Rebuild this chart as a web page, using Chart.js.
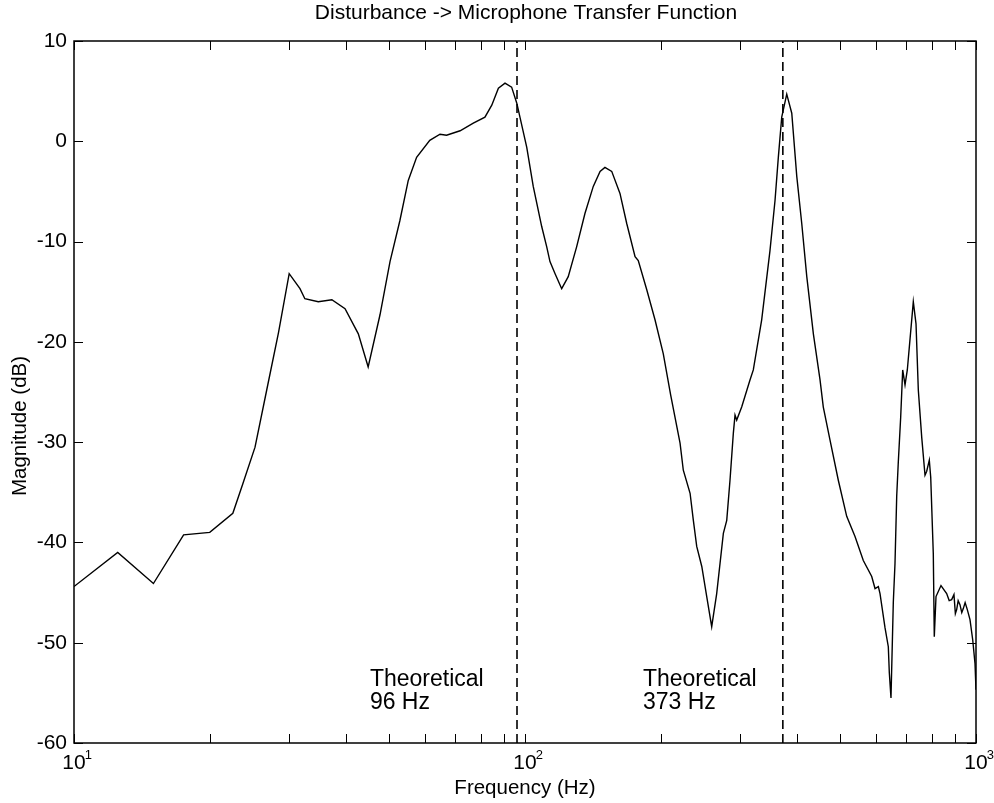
<!DOCTYPE html>
<html>
<head>
<meta charset="utf-8">
<title>Disturbance -> Microphone Transfer Function</title>
<script src="https://cdn.jsdelivr.net/npm/chart.js@4/dist/chart.umd.min.js"></script>
<style>
  html, body { margin: 0; padding: 0; background: #ffffff; }
  #wrap { width: 994px; height: 803px; }
</style>
</head>
<body>
<div id="wrap"><canvas id="tf" width="994" height="803"></canvas></div>
<script>
// Measured magnitude response, disturbance input -> microphone output
const freqHz = [
  10.0, 12.5, 15.0, 17.5, 20.0, 22.5, 23.7, 25.2, 26.75, 28.4,
  30.0, 31.7, 32.5, 34.8, 37.3, 39.9, 42.7, 44.9, 47.7, 50.2,
  52.8, 55.1, 57.5, 61.5, 64.8, 67.0, 71.8, 76.8, 81.5, 84.4,
  87.3, 90.3, 93.4, 95.9, 100.9, 104.3, 108.9, 111.7, 113.6, 116.6,
  120.6, 124.7, 130.2, 135.8, 141.7, 146.7, 150.4, 155.7, 162.4, 168.1,
  175.4, 178.3, 186.2, 194.2, 202.6, 210.4, 220.7, 224.4, 232.3, 236.2,
  240.3, 246.6, 252.9, 259.4, 266.1, 275.3, 280.1, 284.8, 289.7, 292.2,
  294.7, 302.3, 315.4, 320.8, 334.8, 349.3, 358.4, 364.5, 370.9, 380.5,
  390.4, 400.5, 410.8, 421.5, 435.9, 451.0, 458.6, 474.6, 495.1, 516.8,
  539.2, 562.5, 587.2, 597.2, 607.4, 612.6, 628.4, 639.1, 642.4, 647.9,
  655.6, 661.3, 667.1, 672.5, 680.8, 687.8, 696.0, 704.2, 714.1, 726.1,
  736.2, 744.9, 757.9, 770.8, 777.5, 787.9, 793.6, 804.1, 808.2, 815.3,
  836.3, 860.9, 872.0, 883.2, 893.6, 900.0, 906.0, 913.0, 921.4, 930.0,
  937.1, 946.0, 956.6, 969.8, 983.3, 995.0, 1000.0
];
const magDb = [
  -44.4, -41.0, -44.1, -39.25, -39.0, -37.1, -34.1, -30.5, -24.8, -19.1,
  -13.2, -14.7, -15.7, -16.0, -15.8, -16.7, -19.2, -22.5, -17.3, -12.0,
  -7.9, -3.9, -1.6, 0.1, 0.7, 0.6, 1.05, 1.8, 2.4, 3.6,
  5.3, 5.8, 5.4, 3.8, -0.6, -4.5, -8.5, -10.5, -12.0, -13.2,
  -14.7, -13.5, -10.5, -7.2, -4.5, -3.0, -2.6, -3.0, -5.2, -8.2,
  -11.5, -11.9, -14.8, -17.8, -21.2, -25.3, -30.1, -32.8, -35.1, -37.8,
  -40.4, -42.4, -45.4, -48.4, -45.1, -39.1, -37.8, -33.8, -29.1, -27.3,
  -27.8, -26.5, -23.8, -22.8, -17.8, -10.9, -5.9, -1.6, 2.4, 4.7,
  2.8, -3.5, -8.2, -13.5, -19.2, -23.8, -26.5, -29.8, -33.8, -37.4,
  -39.4, -41.8, -43.4, -44.6, -44.4, -45.1, -48.5, -50.4, -53.0, -55.5,
  -46.0, -42.1, -35.4, -32.0, -27.5, -22.8, -24.3, -22.8, -19.7, -16.0,
  -18.2, -24.8, -29.5, -33.3, -32.9, -31.8, -33.5, -41.1, -49.4, -45.4,
  -44.3, -45.1, -45.8, -45.7, -45.2, -47.1, -46.7, -45.8, -46.2, -47.0,
  -46.6, -46.0, -46.7, -47.7, -49.7, -52.1, -54.7
];

// Predicted resonances, marked with dashed verticals
const theoryFreqHz = [96, 373];
const theoryLabels = [['Theoretical', '96 Hz'], ['Theoretical', '373 Hz']];
// Where each note starts (left edge, Hz) and the dB level of its two lines
const noteAnchorHz = [45.3, 182.6];
const noteLineDb = [-53.7, -56.0];

// Axis ticks
const xDecades = [10, 100, 1000];
const xDecadeExponents = ['1', '2', '3'];
const yTicksDb = [10, 0, -10, -20, -30, -40, -50, -60];

const X_MIN = 10, X_MAX = 1000, Y_MIN = -60, Y_MAX = 10;
const FONT = '"Liberation Sans", Arial, Helvetica, sans-serif';

const curve = freqHz.map((f, i) => ({ x: f, y: magDb[i] }));
const theoryDatasets = theoryFreqHz.map(f => ({
  data: [{ x: f, y: Y_MIN }, { x: f, y: Y_MAX }],
  borderColor: '#000000',
  borderWidth: 1.6,
  borderDash: [9, 5],
  pointRadius: 0,
  fill: false
}));

// Box, inward ticks, labels and notes in the classic plotting style
const framePlugin = {
  id: 'frame',
  afterDraw(chart) {
    const { ctx, chartArea: a, scales } = chart;
    const xs = scales.x, ys = scales.y;
    const TICK = 9;
    ctx.save();
    ctx.strokeStyle = '#000000';
    ctx.fillStyle = '#000000';
    ctx.lineWidth = 1.5;
    ctx.strokeRect(a.left, a.top, a.right - a.left, a.bottom - a.top);

    ctx.lineWidth = 1;
    ctx.beginPath();
    // x ticks: decades and the 2..9 subdivisions, top and bottom
    for (let d = 10; d < X_MAX; d *= 10) {
      for (let m = 1; m <= 10; m++) {
        const px = Math.round(xs.getPixelForValue(d * m)) + 0.5;
        ctx.moveTo(px, a.bottom); ctx.lineTo(px, a.bottom - TICK);
        ctx.moveTo(px, a.top); ctx.lineTo(px, a.top + TICK);
      }
    }
    // y ticks, left and right
    yTicksDb.forEach(v => {
      const py = Math.round(ys.getPixelForValue(v)) + 0.5;
      ctx.moveTo(a.left, py); ctx.lineTo(a.left + TICK, py);
      ctx.moveTo(a.right, py); ctx.lineTo(a.right - TICK, py);
    });
    ctx.stroke();

    // y tick labels
    ctx.font = '21px ' + FONT;
    ctx.textAlign = 'right';
    ctx.textBaseline = 'middle';
    yTicksDb.forEach(v => {
      ctx.fillText(String(v), a.left - 7, ys.getPixelForValue(v));
    });

    // x tick labels: 10 with a raised exponent
    xDecades.forEach((v, i) => {
      const px = xs.getPixelForValue(v);
      ctx.font = '21px ' + FONT;
      ctx.textAlign = 'center';
      ctx.textBaseline = 'middle';
      ctx.fillText('10', px, a.bottom + 20);
      const w = ctx.measureText('10').width;
      ctx.font = '13px ' + FONT;
      ctx.textAlign = 'left';
      ctx.fillText(xDecadeExponents[i], px + w / 2 - 1, a.bottom + 12);
    });

    // title and axis titles
    ctx.font = '21px ' + FONT;
    ctx.textAlign = 'center';
    ctx.textBaseline = 'middle';
    const cx = (a.left + a.right) / 2;
    ctx.fillText('Disturbance -> Microphone Transfer Function', cx + 1, 13);
    ctx.font = '20.5px ' + FONT;
    ctx.fillText('Frequency (Hz)', cx, a.bottom + 45);
    ctx.save();
    ctx.translate(20, (a.top + a.bottom) / 2 + 34);
    ctx.rotate(-Math.PI / 2);
    ctx.fillText('Magnitude (dB)', 0, 0);
    ctx.restore();

    // notes beside the dashed lines
    ctx.font = '23px ' + FONT;
    ctx.textAlign = 'left';
    theoryLabels.forEach((lines, i) => {
      const px = xs.getPixelForValue(noteAnchorHz[i]);
      lines.forEach((t, j) => {
        ctx.fillText(t, px, ys.getPixelForValue(noteLineDb[j]));
      });
    });
    ctx.restore();
  }
};

new Chart(document.getElementById('tf'), {
  type: 'line',
  data: {
    datasets: [{
      data: curve,
      borderColor: '#000000',
      borderWidth: 1.4,
      pointRadius: 0,
      tension: 0,
      fill: false
    }, ...theoryDatasets]
  },
  options: {
    responsive: false,
    animation: false,
    devicePixelRatio: 1,
    layout: { padding: { left: 74, right: 18, top: 41, bottom: 60 } },
    scales: {
      x: { type: 'logarithmic', min: X_MIN, max: X_MAX, display: false },
      y: { type: 'linear', min: Y_MIN, max: Y_MAX, display: false }
    },
    plugins: { legend: { display: false }, tooltip: { enabled: false }, title: { display: false } }
  },
  plugins: [framePlugin]
});
</script>
</body>
</html>
